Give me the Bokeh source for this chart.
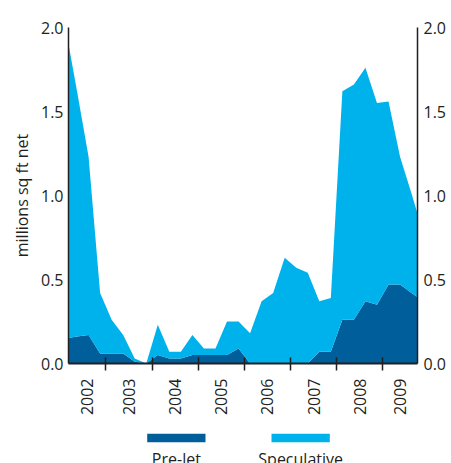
from math import pi
from bokeh.plotting import figure
from bokeh.models import (Range1d, FixedTicker, LinearAxis, ColumnDataSource,
                          PrintfTickFormatter, Title)
from bokeh.layouts import column
from bokeh.core.properties import value
from bokeh.embed import file_html
from bokeh.resources import INLINE

# ---------------- data ----------------
years = [2002, 2003, 2004, 2005, 2006, 2007, 2008, 2009]
quarter_labels = [f"{y} Q{q}" for y in years for q in (1, 2, 3, 4)]

series_names = ["Pre-let", "Speculative"]

prelet = [0.15, 0.16, 0.17, 0.06,
          0.06, 0.06, 0.01, 0.00,
          0.05, 0.03, 0.03, 0.05,
          0.05, 0.05, 0.05, 0.09,
          0.00, 0.00, 0.00, 0.00,
          0.00, 0.00, 0.07, 0.07,
          0.26, 0.26, 0.37, 0.35,
          0.47, 0.47, 0.42, 0.37]

speculative = [1.85, 1.46, 1.06, 0.36,
               0.20, 0.11, 0.02, 0.00,
               0.18, 0.04, 0.04, 0.12,
               0.04, 0.04, 0.20, 0.16,
               0.18, 0.37, 0.42, 0.63,
               0.57, 0.54, 0.30, 0.32,
               1.36, 1.40, 1.39, 1.20,
               1.09, 0.76, 0.59, 0.41]

y_ticks = [0.0, 0.5, 1.0, 1.5, 2.0]
y_title = "millions sq ft net"

# ---------------- style ----------------
DARK = "#005e9a"
LIGHT = "#00b2ec"
INK = "#231f20"
FONT = "Open Sans"
FS = "16px"
PAGE_W = 451
FRAME_L, FRAME_W = 68, 349

x_start, x_end = 2002.19, 2009.753

xpos = [int(s[:4]) + (int(s[-1]) - 0.5) / 4 for s in quarter_labels]
src = ColumnDataSource(dict(x=xpos, prelet=prelet, speculative=speculative))

p = figure(frame_width=FRAME_W, frame_height=336,
           x_range=Range1d(x_start, x_end), y_range=Range1d(0, 2.0),
           output_backend="svg", toolbar_location=None,
           min_border_left=FRAME_L, min_border_right=PAGE_W - FRAME_L - FRAME_W,
           min_border_top=27, min_border_bottom=57)
p.outline_line_color = None
p.xgrid.visible = False
p.ygrid.visible = False

p.varea_stack(["prelet", "speculative"], x="x", color=[DARK, LIGHT], source=src)

# x axis: minor ticks at year boundaries, labels centred in visible part of each year
boundaries = [y for y in years if x_start < y < x_end]
label_pos = [(max(x_start, y) + min(x_end, y + 1)) / 2 for y in years]
xa = p.xaxis[0]
xa.ticker = FixedTicker(ticks=label_pos, minor_ticks=boundaries)
xa.major_label_overrides = {lp: str(y) for lp, y in zip(label_pos, years)}
xa.major_tick_line_color = None
xa.major_tick_in = 0
xa.major_tick_out = 0
xa.minor_tick_line_color = INK
xa.minor_tick_line_width = 1.5
xa.minor_tick_in = 6
xa.minor_tick_out = 7
xa.axis_line_color = INK
xa.axis_line_width = 2
xa.major_label_orientation = pi / 2
xa.major_label_standoff = 8
xa.major_label_text_font = FONT
xa.major_label_text_font_size = FS
xa.major_label_text_color = INK

def style_y(ax, standoff):
    ax.ticker = FixedTicker(ticks=y_ticks)
    ax.formatter = PrintfTickFormatter(format="%.1f")
    ax.major_tick_line_color = None
    ax.minor_tick_line_color = None
    ax.major_tick_in = 0
    ax.major_tick_out = 0
    ax.axis_line_color = INK
    ax.axis_line_width = 1.5
    ax.major_label_standoff = standoff
    ax.major_label_text_font = FONT
    ax.major_label_text_font_size = FS
    ax.major_label_text_color = INK

style_y(p.yaxis[0], 5)
ra = LinearAxis()
style_y(ra, 6)
p.add_layout(ra, "right")

# y-axis title as a side title (offset shifts it upwards)
yt = Title(text=y_title, align="center", offset=8, text_font=FONT,
           text_font_size=FS, text_color=INK, text_font_style="normal")
try:
    yt.standoff = 10
except Exception:
    pass
p.add_layout(yt, "left")

# ---------------- legend strip (its frame is aligned with the plot frame) ----------------
lf = figure(width=PAGE_W, height=43,
            x_range=Range1d(FRAME_L, FRAME_L + FRAME_W), y_range=Range1d(43, 0),
            output_backend="svg", toolbar_location=None, min_border=0,
            x_axis_location=None, y_axis_location=None)
lf.xgrid.visible = False
lf.ygrid.visible = False
lf.outline_line_color = None
sw_left = [146.7, 271.0]
sw_w = 58.3
lf.quad(left=sw_left, right=[l + sw_w for l in sw_left], top=[13.3, 13.3],
        bottom=[21.7, 21.7], color=[DARK, LIGHT], line_color=None)
lf.text(x=[l + sw_w / 2 for l in sw_left], y=[27.7, 27.7], text=series_names,
        text_align="center", text_baseline="top", text_font=value(FONT),
        text_font_size=FS, text_color=INK)

layout = column(p, lf, spacing=0)
open("out.html", "w").write(file_html(layout, INLINE))
